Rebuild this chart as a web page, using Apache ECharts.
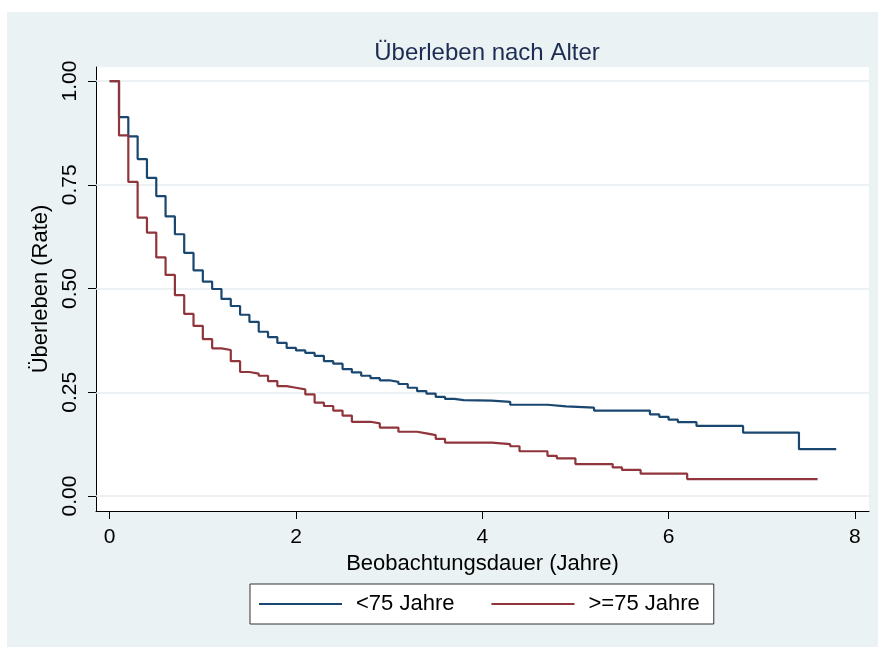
<!DOCTYPE html>
<html>
<head>
<meta charset="utf-8">
<script src="https://cdn.jsdelivr.net/npm/echarts@6/dist/echarts.min.js"></script>
<style>
  html, body { margin: 0; padding: 0; background: #fff; }
  #chart { width: 878px; height: 647px; }
</style>
</head>
<body>
<div id="chart"></div>
<script>
// Kaplan-Meier Schätzer
var timeUnder75 = [0, 0.1, 0.2, 0.3, 0.4, 0.5, 0.6, 0.7, 0.8, 0.9, 1.0, 1.1, 1.2, 1.3, 1.4, 1.5, 1.6, 1.7, 1.8, 1.9,
  2.0, 2.1, 2.2, 2.3, 2.4, 2.5, 2.6, 2.7, 2.8, 2.9, 3.0, 3.1, 3.2, 3.3, 3.4, 3.5, 3.6, 3.7, 3.8,
  4.1, 4.3, 4.7, 4.9, 5.2, 5.8, 5.9, 6.0, 6.1, 6.3, 6.8, 7.4, 7.8];
var survUnder75 = [1, 0.913, 0.867, 0.812, 0.767, 0.723, 0.674, 0.631, 0.586, 0.544, 0.517, 0.499, 0.475, 0.458, 0.437, 0.420, 0.396, 0.383, 0.369, 0.357,
  0.351, 0.345, 0.338, 0.325, 0.319, 0.306, 0.298, 0.290, 0.284, 0.279, 0.275, 0.270, 0.261, 0.253, 0.247, 0.239, 0.234, 0.231, 0.230,
  0.227, 0.220, 0.216, 0.213, 0.206, 0.197, 0.191, 0.184, 0.178, 0.169, 0.153, 0.113, 0.113];

var timeOver75 = [0, 0.1, 0.2, 0.3, 0.4, 0.5, 0.6, 0.7, 0.8, 0.9, 1.0, 1.1, 1.2, 1.3, 1.4, 1.5, 1.6, 1.7, 1.8, 1.9,
  2.0, 2.1, 2.2, 2.3, 2.4, 2.5, 2.6, 2.8, 2.9, 3.1, 3.3, 3.4, 3.5, 3.6,
  4.1, 4.3, 4.4, 4.7, 4.8, 5.0, 5.4, 5.5, 5.7, 6.2, 7.6];
var survOver75 = [1, 0.869, 0.757, 0.671, 0.635, 0.575, 0.533, 0.484, 0.439, 0.410, 0.378, 0.356, 0.352, 0.325, 0.299, 0.295, 0.290, 0.277, 0.265, 0.261,
  0.257, 0.245, 0.225, 0.217, 0.206, 0.194, 0.179, 0.175, 0.165, 0.155, 0.151, 0.147, 0.138, 0.129,
  0.125, 0.120, 0.108, 0.097, 0.091, 0.077, 0.069, 0.063, 0.054, 0.041, 0.041];

var seriesNames = ["<75 Jahre", ">=75 Jahre"];
var xTicks = [0, 2, 4, 6, 8];
var yTicks = [0, 0.25, 0.5, 0.75, 1];

function zip(t, s) {
  var out = [];
  for (var i = 0; i < t.length; i++) out.push([t[i], s[i]]);
  return out;
}

var font = "'Liberation Sans', Arial, sans-serif";
var myChart = echarts.init(document.getElementById("chart"));

var option = {
  backgroundColor: "#fff",
  animation: false,
  textStyle: { fontFamily: font },
  graphic: {
    elements: [{
      type: "rect", z: -10, silent: true,
      shape: { x: 7, y: 12, width: 871, height: 635 },
      style: { fill: "#eaf2f3" }
    }]
  },
  title: {
    text: "Überleben nach Alter",
    left: 482, top: 36, textAlign: "center",
    textStyle: { fontFamily: font, fontSize: 24, fontWeight: "normal", color: "#1c2c52" }
  },
  grid: {
    left: 96, right: 9, top: 67, bottom: 136,
    show: true, backgroundColor: "#fff", borderWidth: 0,
    containLabel: false
  },
  legend: {
    data: [
      { name: seriesNames[0], icon: "rect" },
      { name: seriesNames[1], icon: "rect" }
    ],
    left: 250, top: 584,
    padding: [9, 14, 9, 9],
    itemGap: 37, itemWidth: 83, itemHeight: 2,
    backgroundColor: "#fff", borderColor: "#333", borderWidth: 1,
    textStyle: { fontFamily: font, fontSize: 22, color: "#000", padding: [0, 0, 0, 9] }
  },
  xAxis: {
    type: "value",
    min: -0.147, max: 8.152,
    name: "Beobachtungsdauer (Jahre)",
    nameLocation: "middle", nameGap: 37,
    nameTextStyle: { fontFamily: font, fontSize: 22, color: "#000" },
    axisLine: { show: true, onZero: false, lineStyle: { color: "#000", width: 1 } },
    axisTick: { show: true, length: 8, customValues: xTicks, lineStyle: { color: "#000" } },
    axisLabel: { customValues: xTicks, margin: 16, fontSize: 21, color: "#000", fontFamily: font },
    splitLine: { show: false }
  },
  yAxis: {
    type: "value",
    min: -0.036, max: 1.034,
    name: "Überleben (Rate)",
    nameLocation: "middle", nameGap: 42,
    nameTextStyle: { fontFamily: font, fontSize: 22, color: "#000" },
    axisLine: { show: true, onZero: false, lineStyle: { color: "#000", width: 1 } },
    axisTick: { show: true, length: 8, customValues: yTicks, lineStyle: { color: "#000" } },
    axisLabel: {
      customValues: yTicks, rotate: 90, margin: 15, fontSize: 21, color: "#000", fontFamily: font,
      formatter: function (v) { return v.toFixed(2); }
    },
    splitLine: { show: false }
  },
  series: [
    {
      // Gitterlinien
      type: "line", data: [], silent: true, z: 1,
      markLine: {
        z: 1,
        silent: true, symbol: "none", label: { show: false },
        lineStyle: { color: "#e6eef0", width: 1.5, type: "solid" },
        data: yTicks.map(function (v) { return { yAxis: v }; })
      }
    },
    {
      name: seriesNames[0], type: "line", step: "end", z: 3,
      showSymbol: false, symbol: "none",
      lineStyle: { color: "#1a476f", width: 2.2 },
      itemStyle: { color: "#1a476f" },
      data: zip(timeUnder75, survUnder75)
    },
    {
      name: seriesNames[1], type: "line", step: "end", z: 3,
      showSymbol: false, symbol: "none",
      lineStyle: { color: "#90353b", width: 2.2 },
      itemStyle: { color: "#90353b" },
      data: zip(timeOver75, survOver75)
    }
  ]
};

option && myChart.setOption(option);
</script>
</body>
</html>
